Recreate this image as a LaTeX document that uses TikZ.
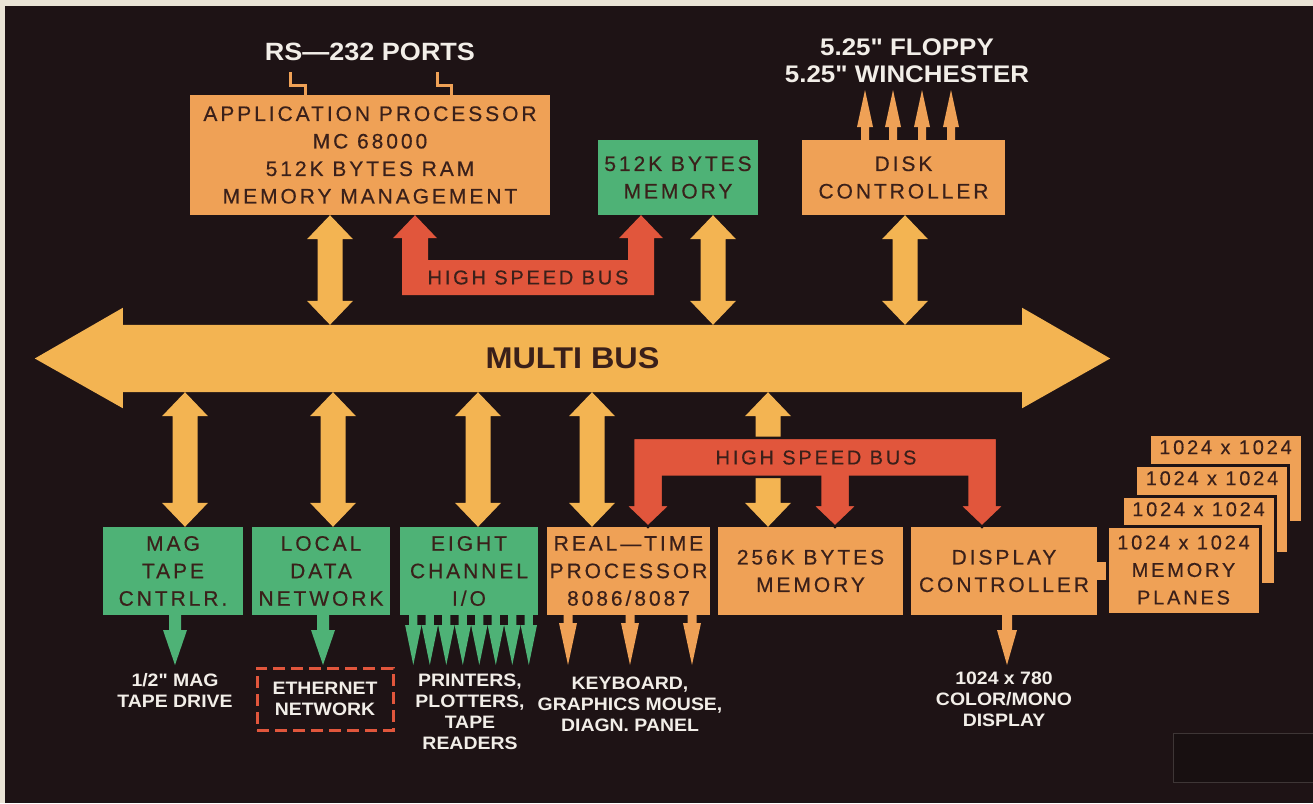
\documentclass[tikz,border=0pt]{standalone}
\usepackage{fontspec}
\setmainfont{Liberation Sans}
\newfontfamily\boxfont[LetterSpace=14,FakeBold=0.4]{Liberation Sans}
\newfontfamily\tagfont[FakeStretch=1.08]{Liberation Sans Bold}
\usetikzlibrary{calc}

\definecolor{paper}{RGB}{234,228,214}
\definecolor{night}{RGB}{30,19,21}
\definecolor{ink}{RGB}{58,32,26}
\definecolor{chalk}{RGB}{242,238,232}
\definecolor{amber}{RGB}{243,180,82}
\definecolor{tangerine}{RGB}{239,161,86}
\definecolor{brick}{RGB}{225,86,60}
\definecolor{jade}{RGB}{78,178,118}
\definecolor{patch}{RGB}{24,16,17}
\definecolor{patchedge}{RGB}{62,54,54}

% fat two-headed bus tap: x, upper anchor, lower anchor
\newcommand{\bustap}[3]{%
  \fill[amber] let \p1=(#1,0 |- #2), \p2=(#1,0 |- #3) in
    (\x1,\y1) -- ({\x1+23pt},{\y1-24pt}) -- ({\x1+12.5pt},{\y1-24pt})
    -- ({\x1+12.5pt},{\y2+24pt}) -- ({\x1+23pt},{\y2+24pt}) -- (\x1,\y2)
    -- ({\x1-23pt},{\y2+24pt}) -- ({\x1-12.5pt},{\y2+24pt})
    -- ({\x1-12.5pt},{\y1-24pt}) -- ({\x1-23pt},{\y1-24pt}) -- cycle;}
% thin output arrow: colour, x, from, to, half shaft, head length
\newcommand{\outlet}[6]{%
  \fill[#1] let \p1=(#2,0 |- #3), \p2=(#2,0 |- #4), \n1={ifthenelse(\y1>\y2,1,-1)} in
    ({\x1-#5pt},\y1) -- ({\x1+#5pt},\y1) -- ({\x1+#5pt},{\y2+(\n1)*#6pt})
    -- ({\x1+2*#5pt},{\y2+(\n1)*#6pt}) -- (\x1,\y2)
    -- ({\x1-2*#5pt},{\y2+(\n1)*#6pt}) -- ({\x1-#5pt},{\y2+(\n1)*#6pt}) -- cycle;}

\begin{document}
\begin{tikzpicture}[
    x=1pt, y=1pt,
    block/.style={rectangle, inner sep=0pt, align=center, text=ink, font=\boxfont\fontsize{21}{27.5}\selectfont},
    cpu/.style={block, fill=tangerine},
    io/.style={block, fill=jade},
    card/.style={cpu, draw=night, line width=3pt, minimum width=153pt, minimum height=88pt, font=\boxfont\fontsize{20}{27.5}\selectfont},
    tag/.style={inner sep=0pt, align=center, text=chalk, font=\tagfont\fontsize{18}{21}\selectfont},
    bigtag/.style={tag, font=\tagfont\fontsize{24}{27}\selectfont},
    hsb/.style={inner sep=0pt, text=ink, font=\boxfont\fontsize{20}{24}\selectfont}
]
\useasboundingbox (0,0) rectangle (1313,-803);
\fill[paper] (0,0) rectangle (1313,-803);
\fill[night] (5,-6) rectangle (1313,-803);
\fill[patch, draw=patchedge, line width=0.8pt] (1173,-733) rectangle (1314,-782);

% top row
\node[cpu, minimum width=360pt, minimum height=120pt] (app) at (370,-155) {APPLICATION PROCESSOR\\MC 68000\\512K BYTES RAM\\MEMORY MANAGEMENT};
\node[io, minimum width=160pt, minimum height=75pt] (mem512) at (678,-177.5) {512K BYTES\\MEMORY};
\node[cpu, minimum width=203pt, minimum height=75pt] (disk) at (903.5,-177.5) {DISK\\CONTROLLER};
\node[bigtag, font=\tagfont\fontsize{25}{28}\selectfont, anchor=north] (rs232) at (370,-43) {RS—232 PORTS};
\node[bigtag, anchor=north] (drives) at (907,-39) {5.25" FLOPPY\\5.25" WINCHESTER};

% bottom row
\node[io, minimum width=140pt, minimum height=88pt] (tape) at (173,-571) {MAG\\TAPE\\CNTRLR.};
\node[io, minimum width=138pt, minimum height=88pt] (lan) at (321,-571) {LOCAL\\DATA\\NETWORK};
\node[io, minimum width=138pt, minimum height=88pt] (eight) at (469,-571) {EIGHT\\CHANNEL\\I/O};
\node[cpu, minimum width=163pt, minimum height=88pt] (rtp) at (628.5,-571) {REAL—TIME\\PROCESSOR\\8086/8087};
\node[cpu, minimum width=185pt, minimum height=88pt] (mem256) at (810.5,-571) {256K BYTES\\MEMORY};
\node[cpu, minimum width=186pt, minimum height=88pt] (dispc) at (1004,-571) {DISPLAY\\CONTROLLER};

% memory planes, back to front
\foreach \k in {3,2,1} {
  \node[card, anchor=north west] (card\k) at (1107+13.5*\k,-526+31*\k) {};
  \node[block, font=\boxfont\fontsize{20}{24}\selectfont, anchor=north] (cardtxt\k) at ($(card\k.north)+(0,-7)$) {1024 x 1024};
}
\node[card] (planes) at (1183.5,-570) {1024 x 1024\\MEMORY\\PLANES};
\fill[tangerine] (dispc.east |- 0,-562) rectangle (planes.west |- 0,-580);

% multibus
\path (572.5,-358.5) node[minimum width=899pt, minimum height=67pt, inner sep=0pt] (bus) {};
\fill[amber] let \p1=(bus.north west), \p2=(bus.south east), \p3=(bus.center) in
  (\x1,\y1) -- (\x2,\y1) -- (\x2,{\y1+17pt}) -- ({\x2+88pt},\y3) -- (\x2,{\y2-16pt})
  -- (\x2,\y2) -- (\x1,\y2) -- (\x1,{\y2-16pt}) -- ({\x1-88pt},\y3) -- (\x1,{\y1+17pt}) -- cycle;
\node[hsb, font=\tagfont\fontsize{30}{36}\selectfont] (busname) at (bus.center) {MULTI BUS};

\bustap{330}{app.south}{bus.north}
\bustap{713}{mem512.south}{bus.north}
\bustap{905}{disk.south}{bus.north}
\foreach \px/\dev in {185/tape, 333/lan, 478/eight, 592/rtp, 768/mem256} {\bustap{\px}{bus.south}{\dev.north}}

% high speed bus, top
\fill[brick] let \p1=(415,0 |- app.south), \p2=(641,0 |- mem512.south) in
  (\x1,\y1) -- ({\x1+22pt},{\y1-23pt}) -- ({\x1+13pt},{\y1-23pt}) -- ({\x1+13pt},{\y1-45pt})
  -- ({\x2-13pt},{\y1-45pt}) -- ({\x2-13pt},{\y2-23pt}) -- ({\x2-22pt},{\y2-23pt}) -- (\x2,\y2)
  -- ({\x2+22pt},{\y2-23pt}) -- ({\x2+13pt},{\y2-23pt}) -- ({\x2+13pt},{\y1-80pt})
  -- ({\x1-13pt},{\y1-80pt}) -- ({\x1-13pt},{\y1-23pt}) -- ({\x1-22pt},{\y1-23pt}) -- cycle;
\node[hsb] (hsbtop) at (528,-277.5) {HIGH SPEED BUS};

% high speed bus, bottom
\filldraw[brick, draw=night, line width=2.5pt] let \p1=(648,0 |- rtp.north), \p2=(835,0 |- mem256.north), \p3=(982,0 |- dispc.north) in
  ({\x1-15pt},{\y1+89pt}) -- ({\x3+15pt},{\y1+89pt}) -- ({\x3+15pt},{\y3+22pt}) -- ({\x3+23pt},{\y3+22pt})
  -- (\x3,\y3) -- ({\x3-23pt},{\y3+22pt}) -- ({\x3-15pt},{\y3+22pt}) -- ({\x3-15pt},{\y1+50pt})
  -- ({\x2+15pt},{\y1+50pt}) -- ({\x2+15pt},{\y2+22pt}) -- ({\x2+23pt},{\y2+22pt}) -- (\x2,\y2)
  -- ({\x2-23pt},{\y2+22pt}) -- ({\x2-15pt},{\y2+22pt}) -- ({\x2-15pt},{\y1+50pt})
  -- ({\x1+15pt},{\y1+50pt}) -- ({\x1+15pt},{\y1+22pt}) -- ({\x1+23pt},{\y1+22pt}) -- (\x1,\y1)
  -- ({\x1-23pt},{\y1+22pt}) -- ({\x1-15pt},{\y1+22pt}) -- cycle;
\node[hsb] (hsbbot) at (816,-457.5) {HIGH SPEED BUS};

% serial ports
\coordinate (rsA) at (290,-72);
\coordinate (rsB) at (437,-72);
\draw[tangerine, line width=3pt] (rsA) |- (305,-85) -- (305,0 |- app.north);
\draw[tangerine, line width=3pt] (rsB) |- (451,-85) -- (451,0 |- app.north);

% drives
\coordinate (drivein) at (0,-90);
\foreach \px in {865,893,922,951} {\outlet{tangerine}{\px}{disk.north}{drivein}{4}{37}}

% outputs
\coordinate (outrow) at (0,-665);
\outlet{jade}{175}{tape.south}{outrow}{6}{35}
\outlet{jade}{323}{lan.south}{outrow}{6}{35}
\foreach \k [evaluate=\k as \px using 413.3+16.5*\k] in {0,...,7} {\outlet{jade}{\px}{eight.south}{outrow}{4.1}{40}}
\foreach \px in {568,630,692} {\outlet{tangerine}{\px}{rtp.south}{outrow}{4.5}{42}}
\outlet{tangerine}{1007}{dispc.south}{outrow}{5}{35}

\node[tag, anchor=north] (tapelbl) at (175,-673) {1/2" MAG\\TAPE DRIVE};
\node[tag, draw=brick, line width=3pt, dash pattern=on 12pt off 6pt, minimum width=136pt, minimum height=62pt] (ether) at (325,-699) {ETHERNET\\NETWORK};
\node[tag, anchor=north] (perilbl) at (470,-674) {PRINTERS,\\PLOTTERS,\\TAPE\\READERS};
\node[tag, anchor=north] (kbdlbl) at (630,-677) {KEYBOARD,\\GRAPHICS MOUSE,\\DIAGN. PANEL};
\node[tag, anchor=north] (crtlbl) at (1004,-672) {1024 x 780\\COLOR/MONO\\DISPLAY};
\end{tikzpicture}
\end{document}
